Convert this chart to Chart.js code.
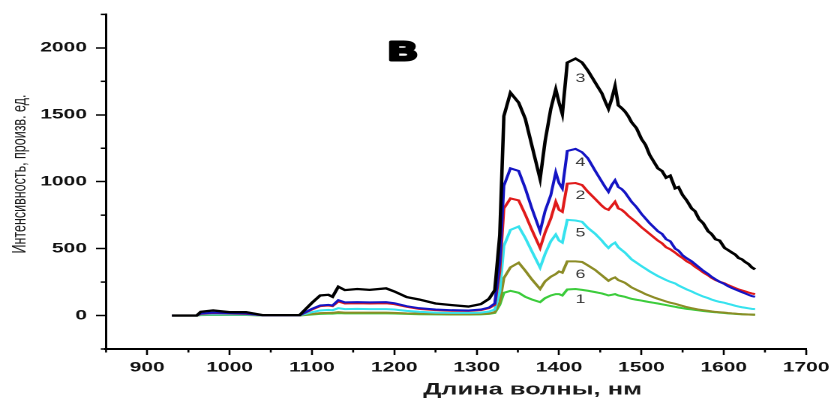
<!DOCTYPE html>
<html>
<head>
<meta charset="utf-8">
<script src="https://cdn.jsdelivr.net/npm/chart.js@4.4.1/dist/chart.umd.min.js"></script>
<style>
  html, body { margin: 0; padding: 0; background: #fff; overflow: hidden; }
  /* the original figure is stretched sideways, so the whole chart is widened 1.5x */
  #wrap { width: 557px; height: 400px; transform: scaleX(1.5); transform-origin: 0 0; }
</style>
</head>
<body>
<div id="wrap"><canvas id="spectra" width="557" height="400"></canvas></div>
<script>
// Wavelength grid, nm
const wavelengths = [930, 960, 965, 980, 1000, 1020, 1040, 1085, 1100, 1110, 1120, 1125, 1132, 1140, 1155, 1170, 1190, 1200, 1215, 1230,
    1250, 1270, 1290, 1305, 1315, 1322, 1328, 1333, 1341, 1351, 1359, 1367, 1377, 1383, 1390, 1396, 1400, 1404, 1410, 1420,
    1428, 1435,
    1444, 1448, 1452, 1456, 1460, 1464, 1468, 1472, 1476, 1480, 1484, 1488, 1494, 1500, 1505, 1510, 1515, 1520, 1525, 1530,
    1535, 1541, 1545, 1550, 1555, 1561, 1565, 1570, 1575, 1581, 1585, 1590, 1595, 1601, 1605, 1610, 1614, 1618, 1622, 1626,
    1630, 1634, 1638];

// Intensity of each spectrum (numbers as on the plot)
const curve3 = [0, 0, 28, 38, 25, 25, 3, 3, 95, 150, 155, 140, 215, 190, 198, 192, 203, 180, 138, 120,
    90, 78, 67, 85, 125, 190, 600, 1490, 1665, 1590, 1470, 1270, 1020, 1300, 1545, 1690, 1590, 1505, 1890, 1920,
    1890, 1830,
    1740, 1700, 1660, 1600, 1545, 1620, 1715, 1570, 1550, 1525, 1490, 1445, 1400, 1320, 1275, 1200, 1150, 1100, 1080, 1030,
    1045, 950, 960, 900, 860, 800, 780, 720, 690, 630, 610, 570, 560, 505, 490, 470, 455, 430, 420, 400,
    385, 360, 345];
const curve4 = [0, 0, 15, 22, 18, 15, 2, 2, 50, 75, 80, 75, 115, 98, 100, 98, 100, 92, 70, 55,
    45, 40, 38, 45, 60, 90, 400, 970, 1100, 1080, 950, 800, 630, 780, 900, 1070, 990, 950, 1230, 1245,
    1220, 1175,
    1080, 1040, 1000, 960, 925, 975, 1010, 960, 945, 920, 885, 850, 810, 760, 725, 690, 660, 630, 610, 570,
    555, 500, 485, 450, 428, 405, 385, 360, 335, 310, 290, 270, 252, 235, 220, 205, 195, 185, 175, 165,
    155, 145, 140];
const curve2 = [0, 0, 12, 18, 15, 12, 2, 2, 45, 70, 75, 70, 105, 90, 92, 90, 92, 85, 65, 50,
    40, 36, 35, 40, 55, 80, 330, 800, 875, 860, 755, 640, 505, 620, 725, 850, 790, 775, 985, 990,
    975, 925,
    870, 845, 820, 800, 790, 820, 850, 800, 790, 770, 745, 725, 695, 660, 635, 610, 585, 560, 540, 510,
    495, 470, 450, 430, 405, 385, 365, 345, 322, 300, 282, 265, 252, 240, 228, 215, 205, 195, 188, 180,
    172, 165, 160];
const curve5 = [0, 0, 8, 10, 8, 8, 1, 1, 25, 38, 42, 40, 55, 48, 50, 48, 48, 45, 35, 28,
    22, 20, 20, 22, 30, 45, 180, 520, 640, 665, 580, 480, 358, 460, 555, 605, 560, 545, 715, 710,
    700, 655,
    610, 585, 560, 530, 505, 530, 545, 510, 490, 470, 445, 420, 395, 370, 350, 330, 312, 295, 280, 265,
    252, 240, 225, 210, 195, 180, 168, 155, 142, 130, 120, 110, 102, 95, 88, 80, 73, 67, 62, 58,
    54, 50, 48];
const curve6 = [0, 0, 5, 8, 6, 6, 1, 1, 12, 18, 20, 20, 25, 22, 22, 22, 22, 20, 16, 14,
    12, 10, 10, 12, 15, 25, 100, 280, 360, 395, 335, 270, 198, 255, 290, 310, 330, 320, 405, 405,
    400, 375,
    340, 320, 300, 280, 260, 275, 285, 265, 255, 245, 228, 210, 192, 175, 160, 148, 136, 125, 115, 105,
    96, 88, 80, 72, 63, 55, 50, 44, 40, 35, 31, 27, 25, 22, 19, 16, 14, 12, 10, 9,
    8, 7, 6];
const curve1 = [0, 0, 3, 5, 4, 4, 0, 0, 8, 12, 14, 14, 18, 16, 16, 16, 16, 15, 12, 10,
    9, 8, 8, 9, 12, 20, 80, 170, 185, 170, 140, 120, 100, 130, 150, 160, 160, 150, 195, 198,
    192, 185,
    175, 170, 165, 158, 150, 155, 160, 150, 145, 140, 132, 125, 118, 112, 106, 100, 95, 90, 84, 78,
    72, 65, 60, 55, 50, 46, 42, 38, 34, 30, 27, 25, 22, 19, 16, 14, 12, 11, 10, 9,
    8, 7, 6];

const curveNames = ['3', '4', '2', '5', '6', '1'];
const curveValues = [curve3, curve4, curve2, curve5, curve6, curve1];
const curveColors = ['#000000', '#1414c4', '#e01a1a', '#36e2ee', '#8c8c26', '#3ccc3c'];

// Where the curve numbers sit, in data units
const nameX = 1426;
const nameY = [1770, 1141, 896, 615, 304, 119];

// Axis tick labels
const xTickLabels = [900, 1000, 1100, 1200, 1300, 1400, 1500, 1600, 1700];
const yTickLabels = [0, 500, 1000, 1500, 2000];

const xTitle = 'Длина волны, нм';
const yTitle = 'Интенсивность, произв. ед.';
const panelLetter = 'В';

const FONT = "'Liberation Sans', Arial, sans-serif";

// Minor ticks, axis titles, panel letter and curve numbers
const extras = {
    id: 'extras',
    afterDraw(chart) {
        const { ctx, chartArea, scales: { x, y } } = chart;
        ctx.save();
        ctx.strokeStyle = '#000';

        // short minor ticks
        ctx.lineWidth = 1.3;
        x.ticks.forEach(t => {
            if (xTickLabels.includes(t.value)) return;
            const px = x.getPixelForValue(t.value);
            ctx.beginPath();
            ctx.moveTo(px, chartArea.bottom);
            ctx.lineTo(px, chartArea.bottom + 3.5);
            ctx.stroke();
        });
        ctx.lineWidth = 1.5;
        y.ticks.forEach(t => {
            if (yTickLabels.includes(t.value)) return;
            const py = y.getPixelForValue(t.value);
            ctx.beginPath();
            ctx.moveTo(chartArea.left, py);
            ctx.lineTo(chartArea.left - 3.5, py);
            ctx.stroke();
        });

        ctx.textAlign = 'center';
        ctx.textBaseline = 'middle';

        // curve numbers
        ctx.fillStyle = '#333';
        ctx.font = `12px ${FONT}`;
        curveNames.forEach((name, i) => {
            ctx.fillText(name, x.getPixelForValue(nameX), y.getPixelForValue(nameY[i]));
        });

        // panel letter, extra heavy
        ctx.fillStyle = '#000';
        ctx.font = `bold 26px ${FONT}`;
        ctx.lineWidth = 3;
        ctx.lineJoin = 'round';
        ctx.strokeText(panelLetter, 268.5, 53);
        ctx.fillText(panelLetter, 268.5, 53);

        // x axis title
        ctx.fillStyle = '#1a1a1a';
        ctx.font = `bold 17px ${FONT}`;
        ctx.fillText(xTitle, 355, 390);

        // y axis title
        ctx.font = `12.5px ${FONT}`;
        ctx.translate(13.5, 174);
        ctx.rotate(-Math.PI / 2);
        ctx.fillText(yTitle, 0, 0);

        ctx.restore();
    }
};

new Chart(document.getElementById('spectra'), {
    type: 'line',
    data: {
        datasets: curveNames.map((name, i) => ({
            label: name,
            data: wavelengths.map((w, k) => ({ x: w, y: curveValues[i][k] })),
            borderColor: curveColors[i],
            borderWidth: i === 0 ? 2.3 : 2,
            pointRadius: 0,
            tension: 0,
            fill: false
        }))
    },
    options: {
        responsive: false,
        animation: false,
        devicePixelRatio: 2,
        layout: { padding: { top: 11, right: 17.7, left: 0, bottom: 0 } },
        plugins: {
            legend: { display: false },
            tooltip: { enabled: false }
        },
        scales: {
            x: {
                type: 'linear',
                min: 850,
                max: 1700,
                afterFit: scale => { scale.height = 51; },
                border: { display: true, color: '#000', width: 2 },
                grid: {
                    drawOnChartArea: false,
                    tickLength: 6,
                    tickWidth: 1.3,
                    tickColor: c => xTickLabels.includes(c.tick.value) ? '#000' : 'rgba(0,0,0,0)'
                },
                ticks: {
                    stepSize: 50,
                    autoSkip: false,
                    maxRotation: 0,
                    padding: 4,
                    color: '#111',
                    font: { family: FONT, size: 14, weight: 'bold' },
                    callback: v => xTickLabels.includes(v) ? String(v) : ''
                }
            },
            y: {
                min: -250,
                max: 2250,
                afterFit: scale => { scale.width = 70.7; },
                border: { display: true, color: '#000', width: 1.5 },
                grid: {
                    drawOnChartArea: false,
                    tickLength: 6.7,
                    tickWidth: 1.5,
                    tickColor: c => yTickLabels.includes(c.tick.value) ? '#000' : 'rgba(0,0,0,0)'
                },
                ticks: {
                    stepSize: 250,
                    autoSkip: false,
                    padding: 6,
                    color: '#111',
                    font: { family: FONT, size: 14, weight: 'bold' },
                    callback: v => yTickLabels.includes(v) ? String(v) : ''
                }
            }
        }
    },
    plugins: [extras]
});
</script>
</body>
</html>
